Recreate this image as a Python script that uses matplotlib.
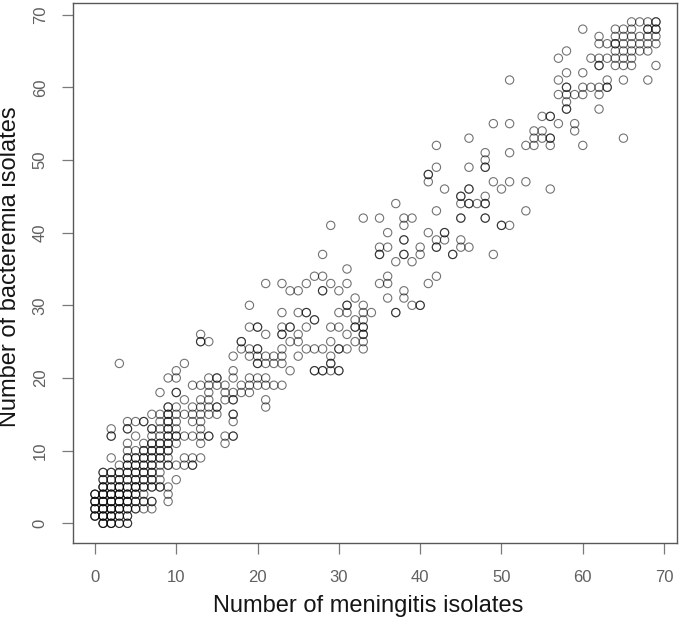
import matplotlib
matplotlib.use("Agg")
import matplotlib.pyplot as plt

plt.rcParams["font.family"] = ["Liberation Sans", "DejaVu Sans"]

# Meningitis counts seen at each bacteremia count (row index = bacteremia isolates).
# A value listed twice or more is an overplotted point, which prints darker.
y00 = [1, 1, 1, 2, 2, 2, 3, 3, 4, 4]
y01 = [0, 0, 0, 1, 1, 1, 2, 2, 2, 3, 3, 4, 4]
y02 = [0, 0, 0, 1, 1, 1, 2, 2, 2, 3, 3, 3, 4, 4, 5, 5, 6, 7]
y03 = [0, 0, 0, 1, 1, 1, 2, 2, 2, 3, 3, 3, 4, 4, 4, 5, 5, 6, 6, 7, 7, 9]
y04 = [0, 0, 0, 1, 1, 1, 2, 2, 2, 3, 3, 3, 4, 4, 4, 5, 5, 6, 9]
y05 = [1, 1, 1, 2, 2, 3, 3, 3, 4, 4, 5, 5, 5, 6, 6, 7, 7, 8, 8, 9]
y06 = [1, 1, 2, 2, 3, 3, 4, 4, 5, 5, 6, 6, 7, 7, 8, 10]
y07 = [1, 1, 2, 2, 3, 3, 4, 4, 5, 5, 6, 6, 7, 7, 8]
y08 = [3, 4, 4, 5, 5, 6, 6, 7, 7, 8, 9, 9, 10, 11, 12, 12]
y09 = [2, 4, 4, 5, 5, 6, 6, 7, 7, 8, 8, 9, 11, 12, 13]
y10 = [4, 5, 6, 6, 7, 7, 8, 8, 9, 9]
y11 = [4, 6, 7, 7, 8, 8, 9, 9, 10, 13, 16]
y12 = [2, 2, 5, 7, 8, 9, 9, 10, 10, 11, 12, 13, 14, 14, 16, 17, 17]
y13 = [2, 4, 4, 7, 7, 8, 9, 9, 10, 13]
y14 = [4, 5, 6, 6, 8, 9, 9, 10, 12, 13, 17]
y15 = [7, 8, 9, 9, 10, 11, 12, 13, 14, 15, 17, 17]
y16 = [9, 9, 10, 12, 13, 14, 15, 15, 21]
y17 = [11, 13, 14, 16, 17, 17, 21]
y18 = [8, 10, 10, 14, 16, 17, 18, 19]
y19 = [12, 13, 14, 15, 16, 18, 19, 20, 21, 22, 23]
y20 = [9, 10, 14, 15, 15, 17, 19, 20, 21]
y21 = [10, 17, 24, 27, 27, 28, 28, 29, 30, 30]
y22 = [3, 11, 20, 20, 21, 22, 23, 29, 29]
y23 = [17, 19, 20, 21, 22, 23, 25, 29]
y24 = [18, 19, 20, 20, 23, 26, 27, 28, 30, 30, 31, 33]
y25 = [13, 13, 14, 18, 18, 24, 25, 29, 32, 33]
y26 = [13, 21, 23, 23, 25, 31, 33, 33]
y27 = [19, 20, 20, 23, 24, 24, 26, 29, 30, 32, 32, 33, 33]
y28 = [27, 27, 32, 33]
y29 = [23, 25, 26, 26, 30, 31, 33, 34, 37, 37]
y30 = [19, 31, 31, 33, 39, 40, 40]
y31 = [32, 36, 38]
y32 = [24, 25, 28, 28, 30, 38]
y33 = [21, 23, 26, 29, 31, 35, 36, 41]
y34 = [27, 28, 36, 42]
y35 = [31]
y36 = [37, 39]
y37 = [28, 35, 35, 38, 38, 40, 44, 44, 49]
y38 = [35, 36, 40, 42, 42, 45, 46]
y39 = [38, 38, 42, 43, 45]
y40 = [36, 41, 43, 43]
y41 = [29, 38, 50, 50, 51]
y42 = [33, 35, 38, 39, 45, 45, 48, 48]
y43 = [42, 53]
y44 = [37, 45, 46, 46, 47, 48, 48]
y45 = [45, 45, 48]
y46 = [43, 46, 46, 50, 56]
y47 = [41, 49, 51, 53]
y48 = [41, 41]
y49 = [42, 46, 48, 48]
y50 = [48]
y51 = [48, 51]
y52 = [42, 53, 54, 56, 60]
y53 = [46, 54, 55, 56, 56, 65]
y54 = [54, 55, 59]
y55 = [49, 51, 57, 59]
y56 = [55, 56, 56]
y57 = [58, 58, 62]
y58 = [58]
y59 = [57, 58, 59, 60, 62]
y60 = [58, 58, 60, 61, 62, 63, 63]
y61 = [51, 57, 63, 65, 68]
y62 = [58, 60]
y63 = [62, 62, 64, 65, 66, 69]
y64 = [57, 61, 62, 63, 64, 65, 66]
y65 = [58, 64, 65, 66, 67, 68]
y66 = [62, 63, 64, 64, 65, 66, 67, 68, 69]
y67 = [62, 64, 65, 66, 67, 68, 69]
y68 = [60, 64, 65, 66, 68, 68, 69, 69]
y69 = [66, 67, 68, 69, 69]

rows = [y00, y01, y02, y03, y04, y05, y06, y07, y08, y09,
        y10, y11, y12, y13, y14, y15, y16, y17, y18, y19,
        y20, y21, y22, y23, y24, y25, y26, y27, y28, y29,
        y30, y31, y32, y33, y34, y35, y36, y37, y38, y39,
        y40, y41, y42, y43, y44, y45, y46, y47, y48, y49,
        y50, y51, y52, y53, y54, y55, y56, y57, y58, y59,
        y60, y61, y62, y63, y64, y65, y66, y67, y68, y69]

ticks = [0, 10, 20, 30, 40, 50, 60, 70]

meningitis = [m for row in rows for m in row]
bacteremia = [b for b, row in enumerate(rows) for _ in row]

fig = plt.figure(figsize=(6.8, 6.19), dpi=100)
ax = fig.add_axes([73 / 680, 1 - 543.3 / 619, (677.5 - 73) / 680, (543.3 - 3) / 619])

ax.scatter(meningitis, bacteremia, s=36, facecolors="none",
           edgecolors=(0, 0, 0, 0.55), linewidths=0.8)

ax.set_xlim(-2.7, 71.65)
ax.set_ylim(-2.75, 71.6)
ax.set_xticks(ticks)
ax.set_yticks(ticks)

for side in ax.spines.values():
    side.set_color("#585858")
    side.set_linewidth(1.0)
ax.tick_params(axis="both", length=7.7, width=0.9, color="#7a7a7a",
               labelcolor="#606060", labelsize=12)
ax.tick_params(axis="x", pad=11.5)
ax.tick_params(axis="y", pad=10.5)
plt.setp(ax.get_yticklabels(), rotation=90, va="center")

# labels sit at fixed pixel positions, the y one is off-centre in the reference
fig.text(368 / 680, 1 - 612 / 619, "Number of meningitis isolates",
         fontsize=17, ha="center", va="baseline", color="#151515")
fig.text(10.5 / 680, 1 - 267 / 619, "Number of bacteremia isolates",
         fontsize=17, rotation=90, ha="center", va="center", color="#151515")

fig.savefig("out.png", dpi=100)
